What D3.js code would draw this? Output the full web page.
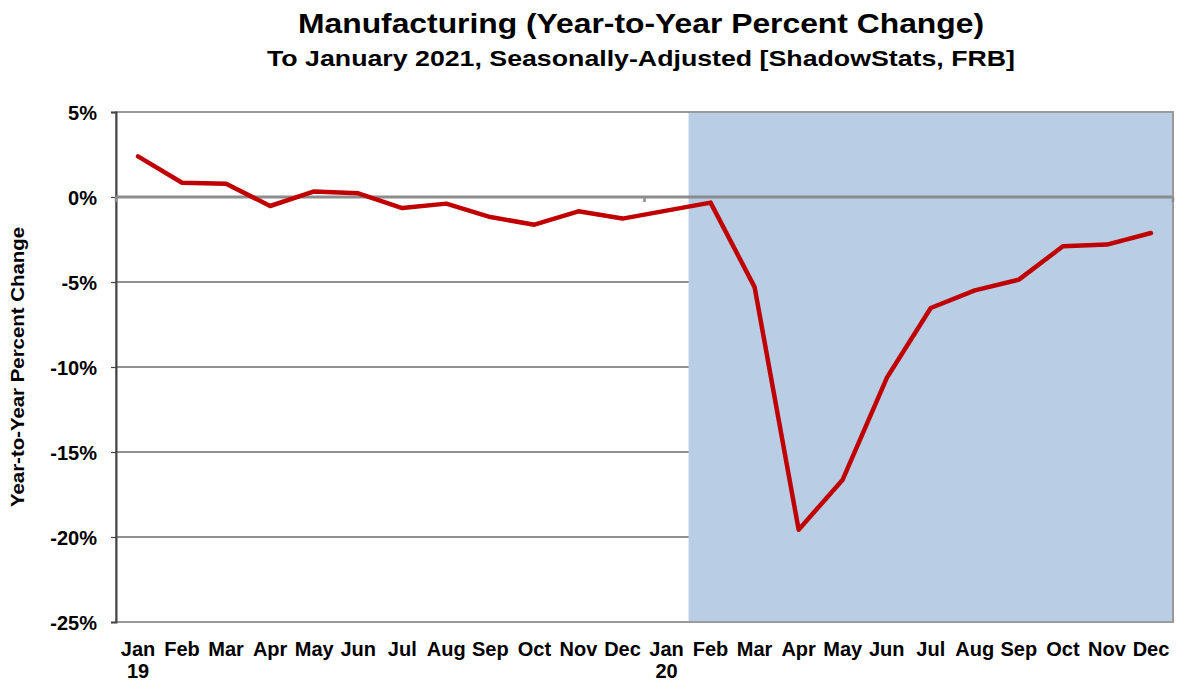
<!DOCTYPE html>
<html>
<head>
<meta charset="utf-8">
<script src="https://cdn.jsdelivr.net/npm/d3@7"></script>
<style>
  body { margin: 0; background: #fff; }
  text { font-family: "Liberation Sans", Arial, sans-serif; font-weight: bold; fill: #000; }
</style>
</head>
<body>
<div id="chart"></div>
<script>
// monthly labels, Jan 2019 .. Dec 2020
const months = ["Jan","Feb","Mar","Apr","May","Jun","Jul","Aug","Sep","Oct","Nov","Dec",
                "Jan","Feb","Mar","Apr","May","Jun","Jul","Aug","Sep","Oct","Nov","Dec"];
const yearLabels = ["19","","","","","","","","","","","","20","","","","","","","","","","",""];
// year-to-year percent change
const values = [2.39, 0.84, 0.78, -0.53, 0.33, 0.22, -0.65, -0.39, -1.18, -1.63, -0.84, -1.27,
                -0.8, -0.33, -5.3, -19.57, -16.63, -10.65, -6.53, -5.49, -4.86, -2.9, -2.8, -2.12];
const yTicks = [5, 0, -5, -10, -15, -20, -25];
const shadeFrom = 13; // Feb 2020 onward

const width = 1177, height = 681;
const margin = { top: 112, right: 4, bottom: 59, left: 116 };

const svg = d3.select("#chart").append("svg")
  .attr("width", width)
  .attr("height", height);

const xScale = d3.scaleBand()
  .domain(d3.range(months.length))
  .range([margin.left, width - margin.right])
  .paddingInner(0).paddingOuter(0);

const yScale = d3.scaleLinear()
  .domain([-25, 5])
  .range([height - margin.bottom, margin.top]);

const x0 = margin.left, x1 = width - margin.right;

// titles
svg.append("text")
  .attr("x", 641).attr("y", 33)
  .attr("text-anchor", "middle")
  .attr("textLength", 686)
  .attr("lengthAdjust", "spacingAndGlyphs")
  .style("font-size", "28px")
  .text("Manufacturing (Year-to-Year Percent Change)");

svg.append("text")
  .attr("x", 641).attr("y", 66)
  .attr("text-anchor", "middle")
  .attr("textLength", 748)
  .attr("lengthAdjust", "spacingAndGlyphs")
  .style("font-size", "22px")
  .text("To January 2021, Seasonally-Adjusted [ShadowStats, FRB]");

// gridlines
svg.append("g")
  .selectAll("line")
  .data(yTicks.filter(d => d !== 0 && d !== 5 && d !== -25))
  .join("line")
  .attr("x1", x0).attr("x2", x1)
  .attr("y1", d => yScale(d)).attr("y2", d => yScale(d))
  .attr("stroke", "#222").attr("stroke-width", 1);

// shaded region
svg.append("rect")
  .attr("x", xScale(shadeFrom))
  .attr("y", yScale(5))
  .attr("width", x1 - xScale(shadeFrom))
  .attr("height", yScale(-25) - yScale(5))
  .attr("fill", "#b9cde4");

// plot border
svg.append("rect")
  .attr("x", x0).attr("y", yScale(5))
  .attr("width", x1 - x0).attr("height", yScale(-25) - yScale(5))
  .attr("fill", "none").attr("stroke", "#9a9a9a").attr("stroke-width", 2);

// y axis
const yAxis = d3.axisLeft(yScale)
  .tickValues(yTicks)
  .tickSize(5)
  .tickPadding(14)
  .tickFormat(d => d + "%");

const yAxisGroup = svg.append("g")
  .attr("transform", `translate(${x0}, 0)`)
  .call(yAxis);
yAxisGroup.select(".domain").attr("stroke", "#444").attr("stroke-width", 2);
yAxisGroup.selectAll(".tick line").attr("stroke", "#444").attr("stroke-width", 1.2);
yAxisGroup.selectAll(".tick text").style("font-size", "20px").attr("dy", "0.36em");

// zero line with year-boundary ticks
svg.append("line")
  .attr("x1", x0).attr("x2", x1)
  .attr("y1", yScale(0)).attr("y2", yScale(0))
  .attr("stroke", "#8c8c8c").attr("stroke-width", 3);

svg.append("g")
  .selectAll("line")
  .data([0, 12, 24])
  .join("line")
  .attr("x1", d => d < months.length ? xScale(d) : x1)
  .attr("x2", d => d < months.length ? xScale(d) : x1)
  .attr("y1", yScale(0)).attr("y2", yScale(0) + 5)
  .attr("stroke", "#8c8c8c").attr("stroke-width", 2.5);

// y axis title
svg.append("text")
  .attr("transform", `translate(24, ${yScale(-10)}) rotate(-90)`)
  .attr("text-anchor", "middle")
  .attr("textLength", 280)
  .attr("lengthAdjust", "spacingAndGlyphs")
  .style("font-size", "18px")
  .text("Year-to-Year Percent Change");

// x labels
const xLabels = svg.append("g");
xLabels.selectAll("text.month")
  .data(months)
  .join("text")
  .attr("class", "month")
  .attr("x", (d, i) => xScale(i) + xScale.bandwidth() / 2)
  .attr("y", 656)
  .attr("text-anchor", "middle")
  .style("font-size", "20px")
  .text(d => d);

xLabels.selectAll("text.year")
  .data(yearLabels)
  .join("text")
  .attr("class", "year")
  .attr("x", (d, i) => xScale(i) + xScale.bandwidth() / 2)
  .attr("y", 678)
  .attr("text-anchor", "middle")
  .style("font-size", "20px")
  .text(d => d);

// line
const lineFunc = d3.line()
  .x((d, i) => xScale(i) + xScale.bandwidth() / 2)
  .y(d => yScale(d));

svg.append("path")
  .datum(values)
  .attr("fill", "none")
  .attr("stroke", "#c00000")
  .attr("stroke-width", 4.5)
  .attr("stroke-linejoin", "round")
  .attr("stroke-linecap", "round")
  .attr("d", lineFunc);
</script>
</body>
</html>
